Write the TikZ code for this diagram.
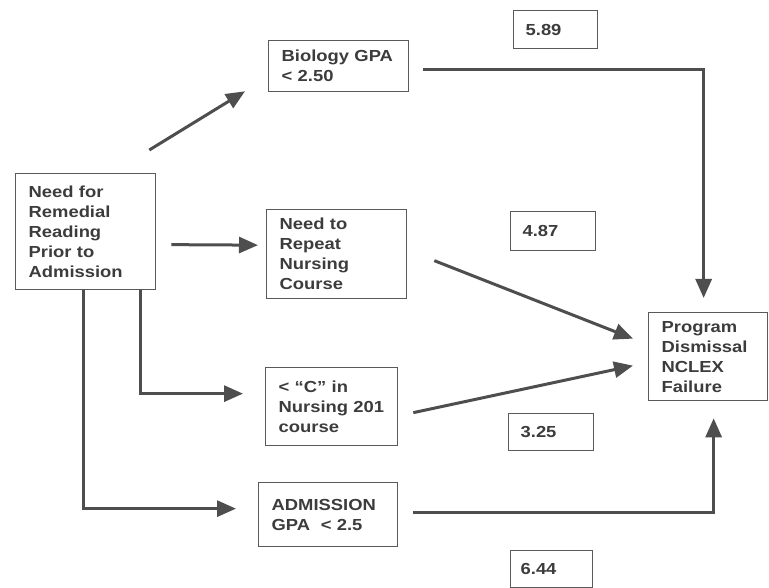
\documentclass[tikz,border=0pt]{standalone}
\usepackage{fontspec}
\newfontfamily\boxfont[FakeStretch=1.15]{Liberation Sans Bold}
\usetikzlibrary{calc,arrows.meta}
\definecolor{boxgray}{HTML}{5A5A5A}
\definecolor{textgray}{HTML}{3C3C3C}
\definecolor{arrowgray}{HTML}{4E4E4E}

\begin{document}
\begin{tikzpicture}[x=1pt, y=-1pt,
    >={Triangle[length=19pt,width=16pt]},
    box/.style={draw=boxgray, line width=1.3pt, anchor=north west,
        inner xsep=13pt, inner ysep=0pt, align=left, text=textgray,
        font=\boxfont\fontsize{16}{20}\selectfont},
    link/.style={->, draw=arrowgray, line width=3pt}
]
    \useasboundingbox (0,0) rectangle (769,588);

    % causes
    \node [box,
        text width=114pt,
        minimum height=116pt
    ]  (Remedial) at (15,173) {Need for\\Remedial\\Reading\\Prior to\\Admission};
    \node [box,
        text width=114pt,
        minimum height=51pt
    ]  (Biology) at (268,40) {Biology GPA\\< 2.50};
    \node [box,
        text width=114pt,
        minimum height=89pt
    ]  (Repeat) at (266,209) {Need to\\Repeat\\Nursing\\Course};
    \node [box,
        text width=106pt,
        minimum height=78pt
    ]  (Nursing) at (265,367) {< “C” in\\Nursing 201\\course};
    \node [box,
        text width=113pt,
        minimum height=64pt
    ]  (Admission) at (258,482) {ADMISSION\\GPA \ < 2.5};

    % outcome
    \node [box,
        text width=93pt,
        minimum height=88pt
    ]  (Program) at (648,312) {Program\\Dismissal\\NCLEX\\Failure};

    % values
    \node [box, inner xsep=12pt,
        text width=60pt,
        minimum height=38pt
    ]  (ValueA) at (513,10) {5.89};
    \node [box, inner xsep=12pt,
        text width=61pt,
        minimum height=39pt
    ]  (ValueB) at (510,211) {4.87};
    \node [box, inner xsep=12pt,
        text width=61pt,
        minimum height=37pt
    ]  (ValueC) at (508,413) {3.25};
    \node [box, inner xsep=10pt,
        text width=62pt,
        minimum height=37pt
    ]  (ValueD) at (510,550) {6.44};

    % connectors
    \draw [link] ($(Remedial.north east)+(-7,-23)$) -- ($(Biology.south west)+(-23,-1)$);
    \draw [link] ($(Remedial.east)+(15,13)$) -- ($(Repeat.west)+(-8,-9)$);
    \draw [link] ($(Remedial.south east)+(-16,0)$) |- ($(Nursing.west)+(-22,-13)$);
    \draw [link] ($(Remedial.south west)+(68,0)$) |- ($(Admission.west)+(-22,-6)$);

    \draw [link] ($(Biology.east)+(14,3.5)$) -| ($(Program.north)+(-4.5,-14)$);
    \draw [link] ($(Repeat.east)+(27,6.5)$) -- ($(Program.west)+(-15,-18)$);
    \draw [link] ($(Nursing.east)+(15,6)$) -- ($(Program.west)+(-15,9)$);
    \draw [link] ($(Admission.east)+(15,-2)$) -| ($(Program.south)+(5.5,17)$);

\end{tikzpicture}
\end{document}
